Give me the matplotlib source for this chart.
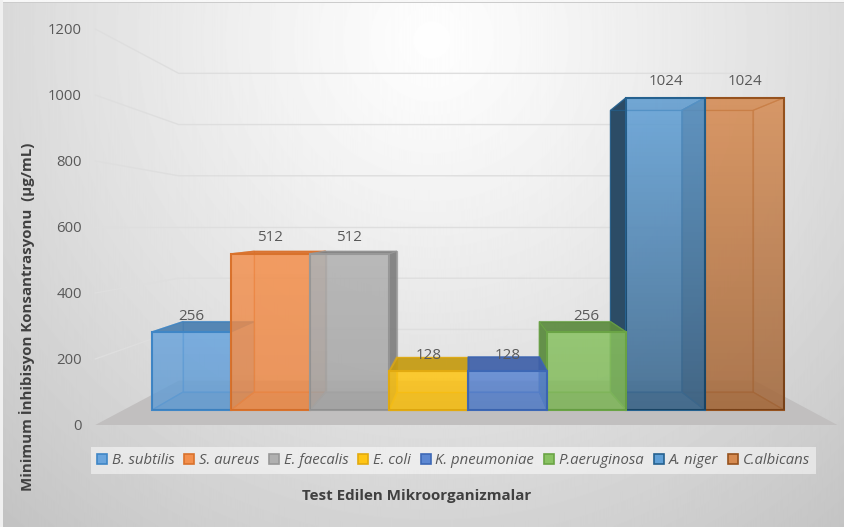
import numpy as np
import matplotlib
matplotlib.use("Agg")
import matplotlib.pyplot as plt
from matplotlib.colors import to_rgba
from matplotlib.patches import Polygon, Patch

organisms = ["B. subtilis", "S. aureus", "E. faecalis", "E. coli", "K. pneumoniae",
             "P.aeruginosa", "A. niger", "C.albicans"]
mic_values = [256, 512, 512, 128, 128, 256, 1024, 1024]
y_ticks = [0, 200, 400, 600, 800, 1000, 1200]
front_colors = ["#6aa5dd", "#f38f4c", "#b0b0b0", "#ffc514", "#5c87d2", "#89c262", "#5f9fd6", "#d68a50"]
edge_colors = ["#3f86c6", "#d9722c", "#989898", "#e2aa10", "#3d68b6", "#6aa445", "#25618f", "#96521e"]
side_colors = ["#4a7fb0", "#d8702e", "#7f7f7f", "#c49a12", "#3f60a8", "#5c8a40", "#24455f", "#a8622c"]
gradient = [0.04, 0.03, 0.05, 0.02, 0.04, 0.04, 0.30, 0.20]
left_alpha = [0.12, 0.12, 0.25, 0.30, 0.30, 0.92, 0.95, 0.50]
right_alpha = [0.25, 0.20, 0.92, 0.30, 0.60, 0.55, 0.60, 0.15]
top_alpha = [0.90, 0.90, 0.90, 0.90, 0.90, 0.90, 0.25, 0.25]

W, H = 844, 527
PX_X, PX_Y = 85.5, 0.33
S_FRONT, S_BACK, S_WALL = 0.924, 0.833, 0.776
VX, VV = 4.0, 600.0
WALL_L, WALL_R = -0.36, 8.32


def project(x, v, s):
    return (VX + (x - VX) * s, VV + (v - VV) * s)


fig = plt.figure(figsize=(W / 100, H / 100), dpi=100, facecolor="#f0f0f0")

# background gradient
bg = fig.add_axes([3 / W, 0, 1 - 3 / W, 1], zorder=0)
yy, xx = np.mgrid[0:H, 0:W]
d = np.sqrt(((xx - 430) / 560.0) ** 2 + ((yy - 40) / 560.0) ** 2)
shade = np.clip(254 - 50 * d ** 1.15, 190, 255) / 255
shade[:2] = 0.97
shade[2] = 0.80
bg.imshow(shade, cmap="gray", vmin=0, vmax=1, aspect="auto")
bg.axis("off")

ax = fig.add_axes([0, 0, 1, 1], zorder=1)
ax.patch.set_alpha(0)
xlim = (VX - 468 / PX_X, VX + (W - 468) / PX_X)
ylim = (-(H - 425) / PX_Y, 425 / PX_Y)

# floor
ax.add_patch(Polygon([project(WALL_L, 0, 1), project(WALL_R, 0, 1),
                      project(WALL_R, 0, S_WALL), project(WALL_L, 0, S_WALL)],
                     closed=True, fc="#c1bfbf", ec="none", zorder=2))
# wall gridlines
for t in y_ticks[1:]:
    a, b, c = project(WALL_L, t, 1), project(WALL_L, t, S_WALL), project(WALL_R, t, S_WALL)
    ax.plot([a[0], b[0], c[0]], [a[1], b[1], c[1]], color="#dedede", lw=1.0, zorder=3,
            solid_joinstyle="miter")

# bars: outer bars first, inner bars last
order = [0, 1, 2, 3, 7, 6, 5, 4]
z = 4
for i in order:
    val = mic_values[i]
    fc, ec, sc = front_colors[i], edge_colors[i], side_colors[i]
    x0, x1 = i, i + 1
    faces = [
        ([project(x0, 0, S_BACK), project(x1, 0, S_BACK), project(x1, val, S_BACK), project(x0, val, S_BACK)], fc, 0.30),
        ([project(x0, 0, S_FRONT), project(x1, 0, S_FRONT), project(x1, 0, S_BACK), project(x0, 0, S_BACK)], sc, 0.45),
        ([project(x0, 0, S_FRONT), project(x0, val, S_FRONT), project(x0, val, S_BACK), project(x0, 0, S_BACK)], sc, left_alpha[i]),
        ([project(x1, 0, S_FRONT), project(x1, val, S_FRONT), project(x1, val, S_BACK), project(x1, 0, S_BACK)], sc, right_alpha[i]),
        ([project(x0, val, S_FRONT), project(x1, val, S_FRONT), project(x1, val, S_BACK), project(x0, val, S_BACK)], sc, top_alpha[i]),
    ]
    for pts, col, al in faces:
        ax.add_patch(Polygon(pts, closed=True, fc=to_rgba(col, al),
                             ec=to_rgba(ec, 0.7), lw=0.9, zorder=z))
        z += 1
    # front face as a real bar in the projected plane
    fx0, fy0 = project(x0, 0, S_FRONT)
    fx1, fy1 = project(x1, val, S_FRONT)
    bar = ax.bar(fx0, fy1 - fy0, width=fx1 - fx0, bottom=fy0, align="edge",
                 facecolor=to_rgba(fc, 0.8),
                 edgecolor=ec, linewidth=1.5, zorder=z)[0]
    z += 1
    # vertical glass gradient over the front
    g = np.zeros((64, 1, 4))
    g[:, 0, 3] = np.linspace(0, gradient[i], 64)
    im = ax.imshow(g, extent=(fx0, fx1, fy0, fy1), origin="upper", aspect="auto", zorder=z,
                   interpolation="bilinear")
    im.set_clip_path(bar)
    z += 1
    # data label
    ax.annotate(str(val), xy=((fx0 + fx1) / 2, fy1), xytext=(0, 11.4), textcoords="offset points",
                ha="center", va="center", fontsize=10.9, color="#595959", family="Open Sans", zorder=200)

ax.set_xlim(xlim)
ax.set_ylim(ylim)
ax.set_xticks([])
ax.set_yticks(y_ticks)
ax.tick_params(axis="y", length=0, pad=-59, labelsize=10.7, labelcolor="#595959")
for lab in ax.get_yticklabels():
    lab.set_family("Open Sans")
for s in ax.spines.values():
    s.set_visible(False)

ax.set_xlabel("Test Edilen Mikroorganizmalar", fontsize=10.9, fontweight="bold",
              color="#404040", family="Open Sans")
ax.xaxis.set_label_coords(417 / W, 1 - 496 / H)
ax.xaxis.label.set_verticalalignment("center")
ax.set_ylabel("Minimum İnhibisyon Konsantrasyonu  (µg/mL)", fontsize=10.8, fontweight="bold",
              color="#404040", family="Open Sans")
ax.yaxis.set_label_coords(27 / W, 1 - 317 / H)
ax.yaxis.label.set_verticalalignment("center")

handles = [Patch(facecolor=front_colors[i], edgecolor=edge_colors[i], linewidth=1.2) for i in range(8)]
leg = ax.legend(handles, organisms, ncol=8, loc="center", bbox_to_anchor=(453.5 / W, 1 - 460.5 / H),
                prop={"family": "Open Sans", "style": "italic", "size": 10.7},
                frameon=True, facecolor="white", edgecolor="none", framealpha=0.5, fancybox=False,
                handlelength=0.67, handleheight=0.67, handletextpad=0.3, columnspacing=0.68,
                borderpad=0.42, labelcolor="#595959")
leg.set_zorder(300)

fig.savefig("out.png", dpi=100)
